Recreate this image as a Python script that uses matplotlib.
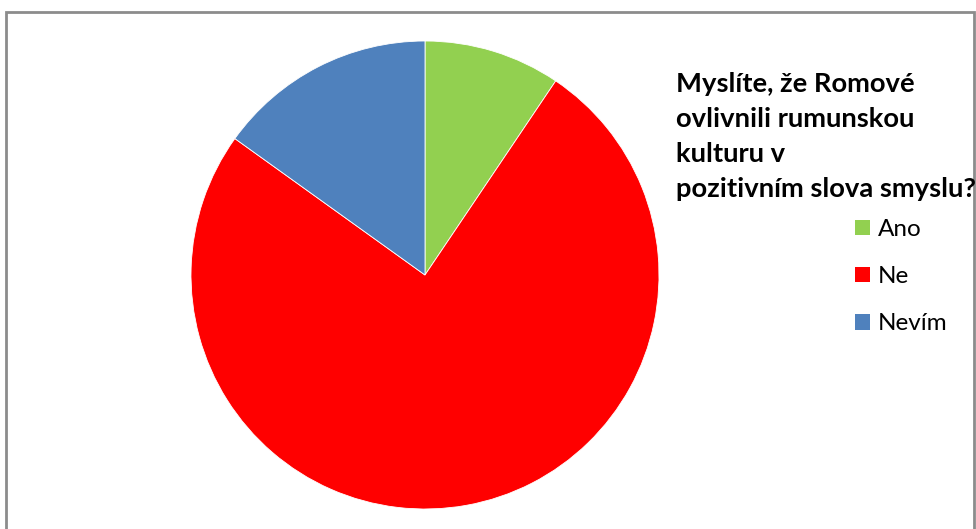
import matplotlib
matplotlib.use("Agg")
import matplotlib.pyplot as plt
from matplotlib.patches import Rectangle, Patch

categories = ["Ano", "Ne", "Nevím"]
values = [5, 40, 8]
colors = ["#92D050", "#FF0000", "#4F81BD"]
title = "Myslíte, že Romové\novlivnili rumunskou\nkulturu v\npozitivním slova smyslu?"

W, H = 976, 529
fig = plt.figure(figsize=(W / 100, H / 100), dpi=100)
fig.patch.set_facecolor("white")

# chart border
fig.add_artist(Rectangle((6 / W, -0.05), (974 - 6) / W, 1 - 12 / H + 0.05,
                         transform=fig.transFigure, fill=False,
                         edgecolor="#8c8c8c", linewidth=2))

cx, cy, r = 425, 275, 234
ax = fig.add_axes([(cx - r) / W, (H - cy - r) / H, 2 * r / W, 2 * r / H])
ax.pie(values, colors=colors, startangle=90, counterclock=False, radius=1,
       wedgeprops=dict(edgecolor="white", linewidth=0.6))
ax.set_xlim(-1, 1)
ax.set_ylim(-1, 1)
ax.set_aspect("equal")
ax.axis("off")

fig.text(676 / W, 1 - 72 / H, title, fontsize=19.7, fontweight="bold",
         family=["Lato", "DejaVu Sans"], va="top", ha="left",
         linespacing=1.55)

handles = [Patch(facecolor=c, edgecolor="none") for c in colors]
fig.legend(handles, categories, loc="upper left",
           bbox_to_anchor=(855 / W, 1 - 219 / H), frameon=False,
           prop=dict(family=["Lato", "DejaVu Sans"], size=17.5),
           handlelength=0.6, handleheight=0.6, handletextpad=0.35,
           labelspacing=1.08, borderpad=0, borderaxespad=0)

fig.savefig("out.png", dpi=100)
